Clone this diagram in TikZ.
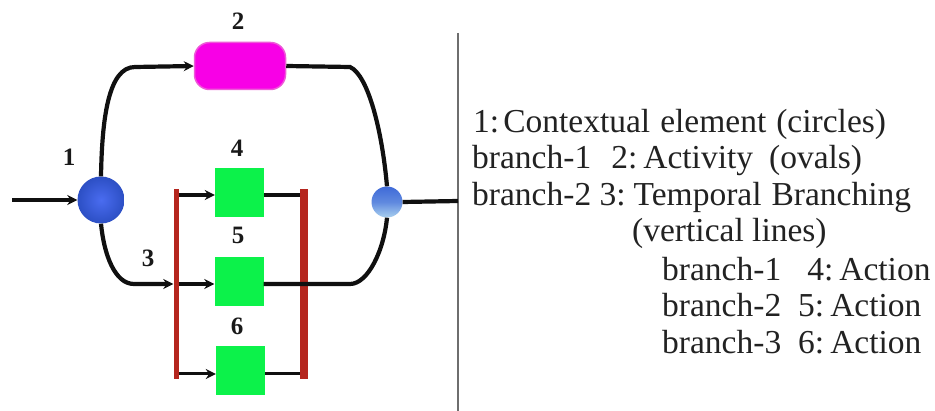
\documentclass[tikz,border=0pt]{standalone}
\usepackage{fontspec}
\setmainfont{Liberation Serif}
\usetikzlibrary{arrows.meta,shadings}
\definecolor{pillc}{HTML}{F800E6}
\definecolor{pilledge}{HTML}{EE5AD8}
\definecolor{greenc}{HTML}{0CF24A}
\definecolor{redbar}{HTML}{B5261E}
\definecolor{rule}{HTML}{6E6E6E}
\definecolor{ballA}{HTML}{4A6CF0}
\definecolor{ballB}{HTML}{2C4FC4}
\definecolor{ballC}{HTML}{3F6AD8}
\definecolor{ballD}{HTML}{A9D0EE}
\definecolor{inkc}{HTML}{101010}
\definecolor{textc}{HTML}{222222}
\tikzset{
  wire/.style={draw=inkc,line width=4.2pt},
  thinwire/.style={draw=inkc,line width=3pt},
  arrowed/.style={-{Stealth[length=10pt,width=10pt]}},
  actbox/.style={draw=none,fill=greenc,minimum width=49pt,minimum height=49pt,inner sep=0pt},
  numlab/.style={font=\bfseries\fontsize{25}{25}\selectfont,text=black!90,inner sep=0pt},
  legend/.style={font=\fontsize{33.5}{35}\selectfont,text=textc,anchor=base west,inner sep=0pt},
  barl/.style={fill=redbar,draw=none,minimum width=5pt,minimum height=190pt,inner sep=0pt},
  barr/.style={fill=redbar,draw=none,minimum width=8pt,minimum height=190pt,inner sep=0pt},
}
\begin{document}
\begin{tikzpicture}[x=1pt,y=-1pt]
\useasboundingbox (0,0) rectangle (935,411);
% divider
\coordinate (divT) at (458,33);
\coordinate (divB) at (458,411);
\draw[draw=rule,line width=2.4pt] (divT) -- (divB);
\coordinate (start) at (12,200);
\coordinate (divM) at (458,201);
% nodes
\node[draw=none,circle,minimum size=47pt,inner sep=0pt,inner color=ballA,outer color=ballB] (c1) at (101,200) {};
\node[draw=none,circle,minimum size=31pt,inner sep=0pt,top color=ballC,bottom color=ballD,middle color=ballC!70!ballD] (c2) at (387,202) {};
\node[draw=pilledge,line width=1.5pt,fill=pillc,rounded corners=15pt,minimum width=91pt,minimum height=47pt,inner sep=0pt] (act2) at (240,66) {};
\node[actbox] (a4) at (239.5,193) {};
\node[actbox] (a5) at (239,281.5) {};
\node[actbox] (a6) at (240.5,371) {};
\node[barl] (bl) at (176,284) {};
\node[barr] (br) at (304,284) {};
% main connectors
\draw[wire,arrowed] (start) -- (c1.west);
\draw[wire,arrowed] (c1.north) .. controls (102,120) and (108,67) .. (135,67) -- (act2.west);
\draw[wire] (act2.east) -- (350,67) .. controls (368,75) and (382,130) .. (c2.north);
\draw[wire,arrowed] (c1.south) .. controls (104,255) and (115,284) .. (134,284) -- (bl.west |- 0,284);
\draw[wire,arrowed] (bl.east |- 0,284) -- (a5.west |- 0,284);
\draw[wire] (a5.east |- 0,284) -- (350,284) .. controls (368,284) and (384,250) .. (c2.south);
\draw[wire] (c2.east) -- (divM);
% branches
\draw[wire,arrowed] (bl.east |- 0,195) -- (a4.west |- 0,195);
\draw[wire] (a4.east |- 0,195) -- (br.west |- 0,195);
\draw[thinwire,arrowed] (bl.east |- 0,374) -- (a6.west |- 0,374);
\draw[thinwire] (a6.east |- 0,374) -- (br.west |- 0,374);
% numbers
\node[numlab] (n1) at (69,157) {1};
\node[numlab] (n2) at (238,21) {2};
\node[numlab] (n3) at (148,258) {3};
\node[numlab] (n4) at (237,148) {4};
\node[numlab] (n5) at (238,235) {5};
\node[numlab] (n6) at (237,326) {6};
% legend
\node[legend] (l1) at (473,132.5) {1:\hspace{4pt}Contextual\hspace{10pt}element\hspace{10pt}(circles)};
\node[legend] (l2) at (472,168.5) {branch-1\hspace{20pt}2:\hspace{6pt}Activity\hspace{16pt}(ovals)};
\node[legend] (l3) at (472,206) {branch-2 3:\hspace{8pt}Temporal\hspace{10pt}Branching};
\node[legend] (l4) at (632,242) {(vertical lines)};
\node[legend] (l5) at (662,281) {branch-1\hspace{26pt}4:\hspace{6pt}Action};
\node[legend] (l6) at (662,316.5) {branch-2\hspace{17pt}5:\hspace{6pt}Action};
\node[legend] (l7) at (662,354) {branch-3\hspace{17pt}6:\hspace{6pt}Action};
\end{tikzpicture}
\end{document}
